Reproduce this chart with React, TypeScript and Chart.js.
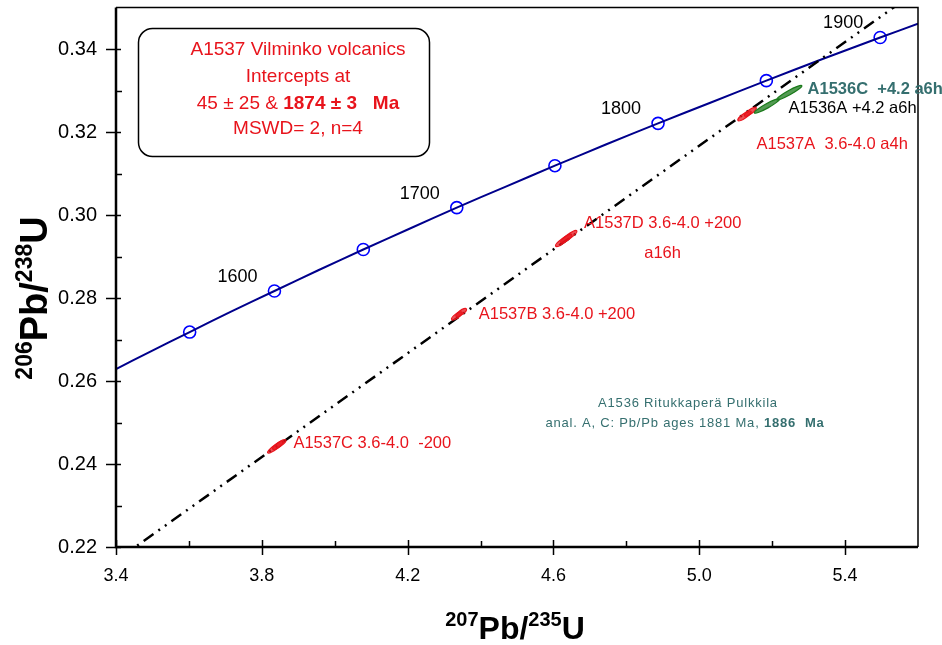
import React, { useEffect, useRef } from 'react';
import { Chart, registerables } from 'chart.js';

Chart.register(...registerables);

const FONT = '"Liberation Sans", Arial, sans-serif';
const RED = '#e8141c';
const TEAL = '#356f6f';
const GREEN = '#1a7a1a';

// axis ticks
const xTicks = [3.4, 3.8, 4.2, 4.6, 5.0, 5.4];
const xMinorTicks = [3.6, 4.0, 4.4, 4.8, 5.2];
const yTicks = [0.22, 0.24, 0.26, 0.28, 0.3, 0.32, 0.34];
const yMinorTicks = [0.23, 0.25, 0.27, 0.29, 0.31, 0.33];

// concordia curve (207Pb/235U, 206Pb/238U)
const concordiaX = [3.4, 3.4902, 3.6021, 3.7169, 3.8346, 3.9549, 4.0784, 4.205, 4.3348, 4.4678, 4.604, 4.7437, 4.8869, 5.0337, 5.184, 5.3382, 5.4962, 5.6];
const concordiaY = [0.2629, 0.2669, 0.2718, 0.2768, 0.2817, 0.2867, 0.2917, 0.2967, 0.3018, 0.3068, 0.3119, 0.317, 0.3221, 0.3272, 0.3324, 0.3376, 0.3428, 0.3461];

// age markers on concordia
const markerAges = [1550, 1600, 1650, 1700, 1750, 1800, 1850, 1900];
const markerX = [3.6021, 3.8346, 4.0784, 4.3348, 4.604, 4.8869, 5.184, 5.4962];
const markerY = [0.2718, 0.2817, 0.2917, 0.3018, 0.3119, 0.3221, 0.3324, 0.3428];
const labelledAges = [1600, 1700, 1800, 1900];

// discordia line
const discordiaX = [3.4, 5.6];
const discordiaY = [0.2167, 0.3542];

// error ellipses: centre and half extent along major axis
const ellipseSample = ['A1537', 'A1537', 'A1537', 'A1537', 'A1537', 'A1537', 'A1537', 'A1537', 'A1536', 'A1536'];
const ellipseX = [3.838, 3.848, 4.335, 4.347, 4.628, 4.642, 5.124, 5.14, 5.1856, 5.247];
const ellipseY = [0.2441, 0.2447, 0.2757, 0.2765, 0.2939, 0.2948, 0.3239, 0.3249, 0.3263, 0.3295];
const ellipseDX = [0.022, 0.018, 0.014, 0.014, 0.022, 0.022, 0.018, 0.016, 0.0344, 0.0344];
const ellipseDY = [0.00138, 0.00113, 0.0009, 0.0009, 0.0014, 0.0014, 0.0011, 0.001, 0.00168, 0.00168];

// annotations
const redLabels = ['A1537C 3.6-4.0  -200', 'A1537B 3.6-4.0 +200', 'A1537D 3.6-4.0 +200', 'a16h', 'A1537A  3.6-4.0 a4h'];
const redLabelX = [3.8866, 4.395, 4.684, 4.849, 5.157];
const redLabelY = [0.2438, 0.275, 0.2969, 0.2897, 0.3159];

function drawRich(ctx: CanvasRenderingContext2D, parts: { text: string; font: string; rise?: number }[], x: number, y: number, align: string) {
  let total = 0;
  const widths: number[] = [];
  for (const p of parts) {
    ctx.font = p.font;
    const w = ctx.measureText(p.text).width;
    widths.push(w);
    total += w;
  }
  let cx = align === 'center' ? x - total / 2 : align === 'right' ? x - total : x;
  ctx.textAlign = 'left';
  ctx.textBaseline = 'alphabetic';
  parts.forEach((p, i) => {
    ctx.font = p.font;
    ctx.fillText(p.text, cx, y - (p.rise || 0));
    cx += widths[i];
  });
}

const overlay = {
  id: 'overlay',
  afterDatasetsDraw(chart: any) {
    const ctx: CanvasRenderingContext2D = chart.ctx;
    const xs = chart.scales.x;
    const ys = chart.scales.y;
    ctx.save();
    for (let i = 0; i < ellipseX.length; i++) {
      const cx = xs.getPixelForValue(ellipseX[i]);
      const cy = ys.getPixelForValue(ellipseY[i]);
      const ex = xs.getPixelForValue(ellipseX[i] + ellipseDX[i]) - cx;
      const ey = ys.getPixelForValue(ellipseY[i] + ellipseDY[i]) - cy;
      const rx = Math.hypot(ex, ey);
      const rot = Math.atan2(ey, ex);
      const col = ellipseSample[i] === 'A1537' ? RED : GREEN;
      ctx.beginPath();
      ctx.ellipse(cx, cy, rx, 2.2, rot, 0, Math.PI * 2);
      ctx.fillStyle = col;
      ctx.globalAlpha = 0.75;
      ctx.fill();
      ctx.globalAlpha = 1;
      ctx.lineWidth = 1.2;
      ctx.strokeStyle = col;
      ctx.stroke();
    }
    ctx.restore();
  },
  afterDraw(chart: any) {
    const ctx: CanvasRenderingContext2D = chart.ctx;
    const xs = chart.scales.x;
    const ys = chart.scales.y;
    const a = chart.chartArea;
    ctx.save();
    ctx.strokeStyle = '#000';
    // frame
    ctx.lineWidth = 1.5;
    ctx.beginPath();
    ctx.moveTo(a.left, a.top);
    ctx.lineTo(a.right, a.top);
    ctx.lineTo(a.right, a.bottom);
    ctx.stroke();
    ctx.lineWidth = 2.5;
    ctx.beginPath();
    ctx.moveTo(a.left, a.top);
    ctx.lineTo(a.left, a.bottom);
    ctx.lineTo(a.right, a.bottom);
    ctx.stroke();
    // ticks
    ctx.lineWidth = 1.5;
    ctx.beginPath();
    for (const v of xTicks) {
      const px = Math.round(xs.getPixelForValue(v)) + 0.5;
      ctx.moveTo(px, a.bottom - 7);
      ctx.lineTo(px, a.bottom + 8);
    }
    for (const v of xMinorTicks) {
      const px = Math.round(xs.getPixelForValue(v)) + 0.5;
      ctx.moveTo(px, a.bottom - 6);
      ctx.lineTo(px, a.bottom);
    }
    for (const v of yTicks) {
      const py = Math.round(ys.getPixelForValue(v)) + 0.5;
      ctx.moveTo(a.left - 10, py);
      ctx.lineTo(a.left + 5, py);
    }
    for (const v of yMinorTicks) {
      const py = Math.round(ys.getPixelForValue(v)) + 0.5;
      ctx.moveTo(a.left, py);
      ctx.lineTo(a.left + 6, py);
    }
    ctx.stroke();

    // age labels
    ctx.fillStyle = '#000';
    ctx.font = `18px ${FONT}`;
    ctx.textAlign = 'right';
    ctx.textBaseline = 'alphabetic';
    markerAges.forEach((age, i) => {
      if (!labelledAges.includes(age)) return;
      const px = xs.getPixelForValue(markerX[i]);
      const py = ys.getPixelForValue(markerY[i]);
      ctx.fillText(String(age), px - 17, py - 9);
    });

    // sample labels
    ctx.textAlign = 'left';
    ctx.fillStyle = RED;
    ctx.font = `16.5px ${FONT}`;
    redLabels.forEach((t, i) => {
      ctx.fillText(t, xs.getPixelForValue(redLabelX[i]), ys.getPixelForValue(redLabelY[i]));
    });
    ctx.fillStyle = TEAL;
    ctx.font = `bold 16.5px ${FONT}`;
    ctx.fillText('A1536C  +4.2 a6h', xs.getPixelForValue(5.297), ys.getPixelForValue(0.3291));
    ctx.fillStyle = '#000';
    ctx.font = `16.5px ${FONT}`;
    ctx.fillText('A1536A +4.2 a6h', xs.getPixelForValue(5.245), ys.getPixelForValue(0.3246));

    // A1536 note
    ctx.fillStyle = TEAL;
    (ctx as any).letterSpacing = '0.8px';
    drawRich(ctx, [{ text: 'A1536 Ritukkaperä Pulkkila', font: `13px ${FONT}` }], 688, 407, 'center');
    drawRich(ctx, [
      { text: 'anal. A, C: Pb/Pb ages 1881 Ma, ', font: `13px ${FONT}` },
      { text: '1886  Ma', font: `bold 13px ${FONT}` },
    ], 685, 427, 'center');
    (ctx as any).letterSpacing = '0px';

    // info box
    ctx.beginPath();
    (ctx as any).roundRect(138.5, 28.5, 291, 128, 14);
    ctx.fillStyle = '#fff';
    ctx.fill();
    ctx.lineWidth = 1.5;
    ctx.strokeStyle = '#000';
    ctx.stroke();
    ctx.fillStyle = RED;
    const bx = 298;
    drawRich(ctx, [{ text: 'A1537 Vilminko volcanics', font: `19px ${FONT}` }], bx, 55, 'center');
    drawRich(ctx, [{ text: 'Intercepts at', font: `19px ${FONT}` }], bx, 82, 'center');
    drawRich(ctx, [
      { text: '45 ± 25 & ', font: `19px ${FONT}` },
      { text: '1874 ± 3   Ma', font: `bold 19px ${FONT}` },
    ], bx, 109, 'center');
    drawRich(ctx, [{ text: 'MSWD= 2, n=4', font: `19px ${FONT}` }], bx, 134, 'center');

    // axis titles
    ctx.fillStyle = '#000';
    drawRich(ctx, [
      { text: '207', font: `bold 20px ${FONT}`, rise: 13 },
      { text: 'Pb/', font: `bold 32px ${FONT}` },
      { text: '235', font: `bold 20px ${FONT}`, rise: 13 },
      { text: 'U', font: `bold 32px ${FONT}` },
    ], 515, 639, 'center');
    ctx.save();
    ctx.translate(47, 298);
    ctx.rotate(-Math.PI / 2);
    drawRich(ctx, [
      { text: '206', font: `bold 23px ${FONT}`, rise: 15 },
      { text: 'Pb/', font: `bold 38px ${FONT}` },
      { text: '238', font: `bold 23px ${FONT}`, rise: 15 },
      { text: 'U', font: `bold 38px ${FONT}` },
    ], 0, 0, 'center');
    ctx.restore();
    ctx.restore();
  },
};

export default function App() {
  const ref = useRef<HTMLCanvasElement | null>(null);
  useEffect(() => {
    document.body.style.margin = '0';
    if (!ref.current) return;
    const chart = new Chart(ref.current, {
      type: 'scatter',
      data: {
        datasets: [
          {
            label: 'Discordia',
            data: discordiaX.map((x, i) => ({ x, y: discordiaY[i] })),
            showLine: true,
            borderColor: '#000',
            borderWidth: 2.5,
            borderDash: [12, 6, 2, 6, 2, 6],
            pointRadius: 0,
          },
          {
            label: 'Concordia',
            data: concordiaX.map((x, i) => ({ x, y: concordiaY[i] })),
            showLine: true,
            borderColor: '#00008c',
            borderWidth: 2,
            pointRadius: 0,
            tension: 0.3,
          },
          {
            label: 'Ages',
            data: markerX.map((x, i) => ({ x, y: markerY[i] })),
            pointRadius: 6,
            pointBorderWidth: 1.6,
            pointBorderColor: '#0000ff',
            pointBackgroundColor: '#ffffff',
          },
        ],
      },
      options: {
        responsive: false,
        animation: false,
        layout: { padding: { top: 7, right: 24, left: 0, bottom: 0 } },
        plugins: { legend: { display: false }, tooltip: { enabled: false } },
        scales: {
          x: {
            type: 'linear',
            min: 3.4,
            max: 5.6,
            afterBuildTicks: (s: any) => {
              s.ticks = xTicks.map((v) => ({ value: v }));
            },
            afterFit: (s: any) => {
              s.height = 98;
              s.paddingLeft = 0;
              s.paddingRight = 0;
            },
            grid: { display: false, drawTicks: true, tickLength: 8 },
            border: { display: false },
            ticks: {
              autoSkip: false,
              maxRotation: 0,
              padding: 10,
              color: '#000',
              font: { family: FONT, size: 18 },
              callback: (v: any) => Number(v).toFixed(1),
            },
          },
          y: {
            type: 'linear',
            min: 0.22,
            max: 0.35,
            afterBuildTicks: (s: any) => {
              s.ticks = yTicks.map((v) => ({ value: v }));
            },
            afterFit: (s: any) => {
              s.width = 116;
              s.paddingTop = 0;
              s.paddingBottom = 0;
            },
            grid: { display: false, drawTicks: true, tickLength: 10 },
            border: { display: false },
            ticks: {
              autoSkip: false,
              padding: 9,
              color: '#000',
              font: { family: FONT, size: 20 },
              callback: (v: any) => Number(v).toFixed(2),
            },
          },
        },
      },
      plugins: [overlay],
    });
    return () => chart.destroy();
  }, []);
  return (
    <div style={{ position: 'absolute', left: 0, top: 0, width: 942, height: 645 }}>
      <canvas ref={ref} width={942} height={645} />
    </div>
  );
}
